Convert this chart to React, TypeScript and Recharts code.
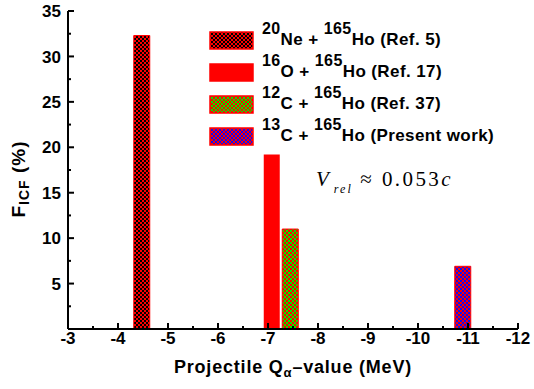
import React from 'react';
import { BarChart, Bar, XAxis, YAxis, Legend, ReferenceDot } from 'recharts';

// Projectile Q-alpha values (MeV) and incomplete fusion fraction (%)
const qValues = [-4.48, -7.08, -7.45, -10.9];
const fIcf = [32.3, 19.2, 11.0, 6.9];
const seriesKeys = ['ne20', 'o16', 'c12', 'c13'];
const projMass = ['20', '16', '12', '13'];
const projName = ['Ne', 'O', 'C', 'C'];
const refs = ['(Ref. 5)', '(Ref. 17)', '(Ref. 37)', '(Present work)'];
const fills = ['url(#pNe)', '#ff0000', 'url(#pC12)', 'url(#pC13)'];

const xTicks = [-3, -3.5, -4, -4.5, -5, -5.5, -6, -6.5, -7, -7.5, -8, -8.5, -9, -9.5, -10, -10.5, -11, -11.5, -12];
const yTicks = [2.5, 5, 7.5, 10, 12.5, 15, 17.5, 20, 22.5, 25, 27.5, 30, 32.5, 35];

const data = qValues.map((q, i) => ({ q, [seriesKeys[i]]: fIcf[i] }));

const FONT = '"Liberation Sans", Arial, sans-serif';
const SERIF = '"Liberation Serif", "Times New Roman", serif';
const GAP_X = 3;
const GAP_Y = 7;

const bold: React.CSSProperties = { fontFamily: FONT, fontWeight: 700 };

const isMajorX = (v: number) => Number.isInteger(v);
const isMajorY = (v: number) => v % 5 === 0;

const BottomTick = (props: any) => {
  const { x, y, payload } = props;
  const axisY = y - GAP_X;
  const major = isMajorX(payload.value);
  return (
    <g>
      <line x1={x} x2={x} y1={axisY} y2={axisY - (major ? 6 : 3)} stroke="#000" strokeWidth={2} />
      {major && (
        <text x={x} y={axisY + GAP_X} dy="0.71em" textAnchor="middle" style={bold} fontSize={17} fill="#000">
          {payload.value}
        </text>
      )}
    </g>
  );
};

const TopTick = (props: any) => {
  const { x, y, payload } = props;
  const major = isMajorX(payload.value);
  return <line x1={x} x2={x} y1={y} y2={y + (major ? 6 : 3)} stroke="#000" strokeWidth={2} />;
};

const LeftTick = (props: any) => {
  const { x, y, payload } = props;
  const axisX = x + GAP_Y;
  const major = isMajorY(payload.value);
  return (
    <g>
      <line x1={axisX} x2={axisX + (major ? 6 : 3)} y1={y} y2={y} stroke="#000" strokeWidth={2} />
      {major && (
        <text x={axisX - GAP_Y} y={y} dy="0.36em" textAnchor="end" style={bold} fontSize={17} fill="#000">
          {payload.value}
        </text>
      )}
    </g>
  );
};

const RightTick = (props: any) => {
  const { x, y, payload } = props;
  const major = isMajorY(payload.value);
  return <line x1={x} x2={x - (major ? 6 : 3)} y1={y} y2={y} stroke="#000" strokeWidth={2} />;
};

const XTitle = (props: any) => {
  const { x, y, width } = props.viewBox;
  return (
    <text x={x + width / 2} y={y + 44} textAnchor="middle" style={{ ...bold, letterSpacing: 0.8 }} fontSize={18} fill="#000">
      Projectile Q
      <tspan fontSize={13} dy={4}>α</tspan>
      <tspan dy={-4}>–value (MeV)</tspan>
    </text>
  );
};

const YTitle = (props: any) => {
  const { y, height } = props.viewBox;
  const cx = 25;
  const cy = y + height / 2 + 9;
  return (
    <text x={cx} y={cy} transform={`rotate(-90 ${cx} ${cy})`} textAnchor="middle" style={{ ...bold, letterSpacing: 1 }} fontSize={19} fill="#000">
      F
      <tspan fontSize={14} dy={4}>ICF</tspan>
      <tspan dy={-4}> (%)</tspan>
    </text>
  );
};

const VrelLabel = (props: any) => {
  const { x, y } = props.viewBox;
  return (
    <text x={x} y={y} fontFamily={SERIF} fontSize={21} fill="#000">
      <tspan fontStyle="italic">V</tspan>
      <tspan fontStyle="italic" fontSize={12} dy={7} letterSpacing={2}> rel</tspan>
      <tspan dy={-7} letterSpacing={2.4}> ≈ 0.053</tspan>
      <tspan fontStyle="italic">c</tspan>
    </text>
  );
};

const sup: React.CSSProperties = { position: 'relative', top: -11, fontSize: 16 };

const renderLegend = (props: any) => {
  const items = [...props.payload].sort(
    (a: any, b: any) => seriesKeys.indexOf(a.dataKey) - seriesKeys.indexOf(b.dataKey)
  );
  return (
    <div>
      {items.map((entry: any) => {
        const i = seriesKeys.indexOf(entry.dataKey);
        return (
          <div key={entry.dataKey} style={{ display: 'flex', alignItems: 'center', height: 32 }}>
            <svg width={45} height={19}>
              <rect x={1} y={1} width={43} height={17} fill={fills[i]} stroke="#ff0000" strokeWidth={1.5} />
            </svg>
            <span style={{ ...bold, marginLeft: 8, fontSize: 17, letterSpacing: 0.4, color: '#000', whiteSpace: 'nowrap' }}>
              <span style={sup}>{projMass[i]}</span>
              {projName[i]} + <span style={sup}>165</span>Ho {refs[i]}
            </span>
          </div>
        );
      })}
    </div>
  );
};

const Patterns = () => (
  <svg width={0} height={0} style={{ position: 'absolute' }}>
    <defs>
      <pattern id="pNe" width={4} height={4} patternUnits="userSpaceOnUse">
        <rect width={4} height={4} fill="#ff0000" />
        <rect width={2} height={2} fill="#000" />
        <rect x={2} y={2} width={2} height={2} fill="#000" />
      </pattern>
      <pattern id="pC12" width={4} height={4} patternUnits="userSpaceOnUse">
        <rect width={4} height={4} fill="#ff0000" />
        <rect width={2} height={2} fill="#00ee00" />
        <rect x={2} y={2} width={2} height={2} fill="#00ee00" />
      </pattern>
      <pattern id="pC13" width={4} height={4} patternUnits="userSpaceOnUse">
        <rect width={4} height={4} fill="#ff0000" />
        <rect width={2} height={2} fill="#1010ee" />
        <rect x={2} y={2} width={2} height={2} fill="#1010ee" />
      </pattern>
    </defs>
  </svg>
);

export default function App() {
  const axisLine = { stroke: '#000', strokeWidth: 2 };
  return (
    <div style={{ position: 'absolute', left: 0, top: 0, width: 534, height: 389, background: '#fff' }}>
      <Patterns />
      <BarChart width={534} height={389} data={data} margin={{ top: 11, right: 16, bottom: 0, left: 0 }}>
        <XAxis
          dataKey="q"
          type="number"
          domain={[-12, -3]}
          reversed
          ticks={xTicks}
          interval={0}
          height={60}
          tickSize={0}
          tickMargin={GAP_X}
          tickLine={false}
          axisLine={axisLine}
          tick={BottomTick}
          label={{ content: XTitle }}
        />
        <XAxis
          xAxisId="top"
          orientation="top"
          type="number"
          domain={[-12, -3]}
          reversed
          ticks={xTicks}
          interval={0}
          height={0}
          tickSize={0}
          tickMargin={0}
          tickLine={false}
          axisLine={axisLine}
          tick={TopTick}
        />
        <YAxis
          type="number"
          domain={[0, 35]}
          ticks={yTicks}
          interval={0}
          width={68}
          tickSize={0}
          tickMargin={GAP_Y}
          tickLine={false}
          axisLine={axisLine}
          tick={LeftTick}
          label={{ content: YTitle }}
        />
        <YAxis
          yAxisId="right"
          orientation="right"
          type="number"
          domain={[0, 35]}
          ticks={yTicks}
          interval={0}
          width={0}
          tickSize={0}
          tickMargin={0}
          tickLine={false}
          axisLine={axisLine}
          tick={RightTick}
        />
        {seriesKeys.map((k, i) => (
          <Bar
            key={k}
            dataKey={k}
            stackId="a"
            barSize={16}
            fill={fills[i]}
            stroke={i === 1 ? 'none' : '#ff0000'}
            strokeWidth={1}
            isAnimationActive={false}
          />
        ))}
        <ReferenceDot x={-7.98} y={15.6} r={1} fill="none" stroke="none" label={{ content: VrelLabel }} />
        <Legend
          layout="vertical"
          align="center"
          verticalAlign="middle"
          content={renderLegend}
          wrapperStyle={{ left: 209, top: 24, width: 'auto' }}
        />
      </BarChart>
    </div>
  );
}
